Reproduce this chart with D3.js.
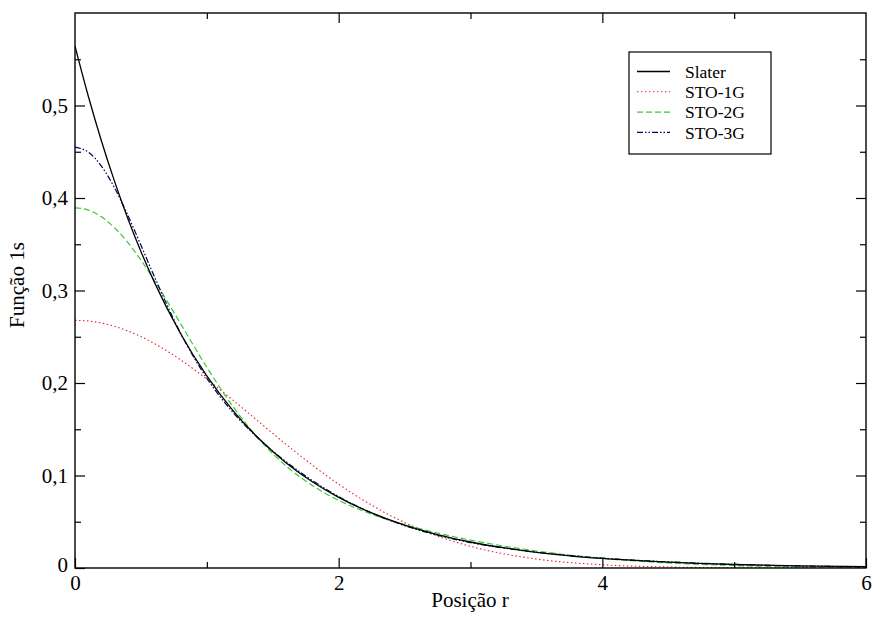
<!DOCTYPE html>
<html><head><meta charset="utf-8">
<script src="https://cdn.jsdelivr.net/npm/d3@7"></script>
<style>body{margin:0;background:#fff}svg{display:block}</style>
</head><body>
<script>
const rValues = [0,0.1,0.2,0.3,0.4,0.5,0.6,0.8,1.0,1.2,1.4,1.6,1.8,2.0,2.25,2.5,2.75,3.0,3.5,4.0,4.5,5.0,5.5,6.0];
const slater = [0.5642,0.5105,0.4619,0.4180,0.3782,0.3422,0.3096,0.2535,0.2076,0.1699,0.1391,0.1139,0.0933,0.0764,0.0595,0.0463,0.0361,0.0281,0.0170,0.0103,0.0063,0.0038,0.0023,0.0014];
const sto1g = [0.2677,0.2670,0.2648,0.2613,0.2563,0.2502,0.2428,0.2251,0.2042,0.1812,0.1574,0.1338,0.1113,0.0906,0.0679,0.0492,0.0345,0.0234,0.0097,0.0035,0.0011,0.0003,0.0001,0.0000];
const sto2g = [0.3894,0.3869,0.3796,0.3678,0.3520,0.3329,0.3114,0.2643,0.2170,0.1742,0.1386,0.1105,0.0892,0.0731,0.0582,0.0469,0.0378,0.0302,0.0184,0.0104,0.0055,0.0027,0.0012,0.0005];
const sto3g = [0.4550,0.4497,0.4345,0.4110,0.3816,0.3490,0.3157,0.2542,0.2051,0.1679,0.1389,0.1150,0.0946,0.0772,0.0595,0.0458,0.0354,0.0275,0.0171,0.0107,0.0066,0.0039,0.0022,0.0012];
const seriesNames = ["Slater","STO-1G","STO-2G","STO-3G"];
const xTickLabels = ["0","2","4","6"];
const yTickLabels = ["0","0,1","0,2","0,3","0,4","0,5"];

const FONT = "'Liberation Serif', 'Times New Roman', Times, serif";
const W=874,H=619, L=75, R=866, T=13, B=568;
const svg=d3.select("body").append("svg").attr("width",W).attr("height",H);
const x=d3.scaleLinear().domain([0,6]).range([L,R]);
const y=d3.scaleLinear().domain([0,0.6]).range([B,T]);

const styles=[
 {color:"#000000",dash:null,w:1.3},
 {color:"#e8202a",dash:"1.5,2.5",w:1.1},
 {color:"#33cc33",dash:"6,3",w:1.2},
 {color:"#000060",dash:"6,2,1.5,2,1.5,2",w:1.2}
];
const allSeries=[slater,sto1g,sto2g,sto3g];
const line=d3.line().x(d=>x(d[0])).y(d=>y(d[1])).curve(d3.curveMonotoneX);
svg.append("clipPath").attr("id","c").append("rect").attr("x",L).attr("y",T).attr("width",R-L).attr("height",B-T);
const g=svg.append("g").attr("clip-path","url(#c)");
[1,2,3,0].forEach(i=>{
  g.append("path").datum(rValues.map((r,k)=>[r,allSeries[i][k]]))
   .attr("d",line).attr("fill","none").attr("stroke",styles[i].color)
   .attr("stroke-width",styles[i].w).attr("stroke-dasharray",styles[i].dash);
});

const fs=21;
const gx=svg.append("g").attr("transform",`translate(0,${B})`)
  .call(d3.axisBottom(x).tickValues([0,2,4,6]).tickFormat((d,i)=>xTickLabels[i]).tickSizeInner(-10).tickSizeOuter(0).tickPadding(7));
svg.append("g").attr("transform",`translate(0,${B})`).call(d3.axisBottom(x).tickValues([1,3,5]).tickFormat("").tickSizeInner(-6).tickSizeOuter(0));
svg.append("g").attr("transform",`translate(0,${T})`).call(d3.axisTop(x).tickValues([2,4]).tickFormat("").tickSizeInner(-10).tickSizeOuter(0));
svg.append("g").attr("transform",`translate(0,${T})`).call(d3.axisTop(x).tickValues([1,3,5]).tickFormat("").tickSizeInner(-6).tickSizeOuter(0));

const gy=svg.append("g").attr("transform",`translate(${L},0)`)
  .call(d3.axisLeft(y).tickValues([0,0.1,0.2,0.3,0.4,0.5]).tickFormat((d,i)=>yTickLabels[i]).tickSizeInner(-10).tickSizeOuter(0).tickPadding(7));
svg.append("g").attr("transform",`translate(${L},0)`).call(d3.axisLeft(y).tickValues([0.05,0.15,0.25,0.35,0.45,0.55]).tickFormat("").tickSizeInner(-6).tickSizeOuter(0));
svg.append("g").attr("transform",`translate(${R},0)`).call(d3.axisRight(y).tickValues([0.1,0.2,0.3,0.4,0.5]).tickFormat("").tickSizeInner(-10).tickSizeOuter(0));
svg.append("g").attr("transform",`translate(${R},0)`).call(d3.axisRight(y).tickValues([0.05,0.15,0.25,0.35,0.45,0.55]).tickFormat("").tickSizeInner(-6).tickSizeOuter(0));

svg.selectAll(".domain").remove();
svg.selectAll(".tick line").attr("stroke","#000").attr("stroke-width",1.2);
svg.selectAll("g").attr("font-family",FONT);
svg.selectAll(".tick text").attr("font-size",fs).attr("font-family",FONT).attr("fill","#000");
gy.selectAll(".tick text").filter((d)=>d===0).attr("dy","0.15em");

svg.append("rect").attr("x",L).attr("y",T).attr("width",R-L).attr("height",B-T).attr("fill","none").attr("stroke","#000").attr("stroke-width",1.4);

svg.append("text").attr("x",470).attr("y",607).attr("text-anchor","middle").attr("font-size",fs).attr("font-family",FONT).text("Posição r");
svg.append("text").attr("transform",`translate(24,285) rotate(-90)`).attr("text-anchor","middle").attr("font-size",fs).attr("font-family",FONT).text("Função 1s");

const lg=svg.append("g");
lg.append("rect").attr("x",629).attr("y",52).attr("width",142).attr("height",102).attr("fill","#fff").attr("stroke","#000").attr("stroke-width",1.2);
seriesNames.forEach((n,i)=>{
  const yy=71.5+i*20.3;
  lg.append("line").attr("x1",637).attr("x2",670).attr("y1",yy).attr("y2",yy)
    .attr("stroke",styles[i].color).attr("stroke-width",styles[i].w).attr("stroke-dasharray",styles[i].dash);
  lg.append("text").attr("x",685).attr("y",yy).attr("dy","0.35em").attr("font-size",17.5).attr("font-family",FONT).text(n);
});
</script>
</body></html>
